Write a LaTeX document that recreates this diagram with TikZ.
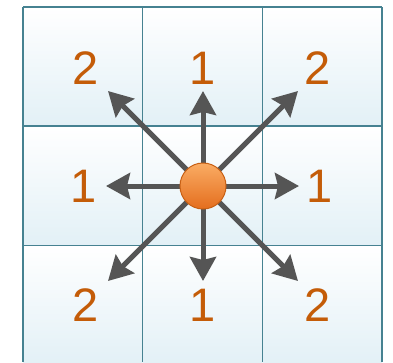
\documentclass[tikz,border=0pt]{standalone}
\usepackage{fontspec}
\setmainfont{Liberation Sans}
\usetikzlibrary{arrows.meta}
\definecolor{gridline}{RGB}{70,130,145}
\definecolor{cellbot}{RGB}{226,240,246}
\definecolor{numcol}{RGB}{196,92,8}
\definecolor{arrcol}{RGB}{85,85,85}
\definecolor{balltop}{RGB}{250,172,100}
\definecolor{ballbot}{RGB}{228,110,30}
\definecolor{ballrim}{RGB}{200,96,20}
\tikzset{
  cell/.style={top color=white,bottom color=cellbot,draw=none},
  num/.style={text=numcol,font=\fontsize{47}{47}\selectfont,inner sep=0pt},
  arr/.style={draw=arrcol,line width=5pt,-{Stealth[length=24pt,width=26pt,inset=3pt]}},
  ball/.style={circle,minimum size=46pt,inner sep=0pt,draw=ballrim,line width=1pt,top color=balltop,bottom color=ballbot}
}
\begin{document}
\begin{tikzpicture}[x=1pt,y=-1pt]
\useasboundingbox (0,0) rectangle (393,362);
\fill[white] (0,0) rectangle (393,362);
\foreach \i in {0,1,2}{
  \foreach \j in {0,1,2}{
    \shade[cell] ({23+\i*119.67},{7+\j*119.5}) rectangle ({23+(\i+1)*119.67},{7+(\j+1)*119.5});
  }
}
\draw[gridline,line width=1.3pt] (23,7) -- (382,7);
\draw[gridline,line width=1.3pt] (23,126) -- (382,126);
\draw[gridline,line width=1.3pt] (23,245.5) -- (382,245.5);
\draw[gridline,line width=1.3pt] (23,7) -- (23,362);
\draw[gridline,line width=1.3pt] (142.7,7) -- (142.7,362);
\draw[gridline,line width=1.3pt] (262.3,7) -- (262.3,362);
\draw[gridline,line width=1.3pt] (382,7) -- (382,362);
\node[num] (n11) at (86,68) {2};
\node[num] (n12) at (203,68) {1};
\node[num] (n13) at (318,68) {2};
\node[num] (n21) at (84,186) {1};
\node[num] (n23) at (320,186) {1};
\node[num] (n31) at (86,305) {2};
\node[num] (n32) at (203,305) {1};
\node[num] (n33) at (318,305) {2};
\coordinate (c0) at (203,186);
\coordinate (tN) at (203,91);
\coordinate (tS) at (203,281);
\coordinate (tW) at (106,186);
\coordinate (tE) at (299,186);
\coordinate (tNW) at (108,91);
\coordinate (tNE) at (298,91);
\coordinate (tSW) at (108,281);
\coordinate (tSE) at (298,281);
\foreach \t in {tN,tS,tW,tE,tNW,tNE,tSW,tSE}{
  \draw[arr] (c0) -- (\t);
}
\node[ball] (c) at (c0) {};
\end{tikzpicture}
\end{document}
